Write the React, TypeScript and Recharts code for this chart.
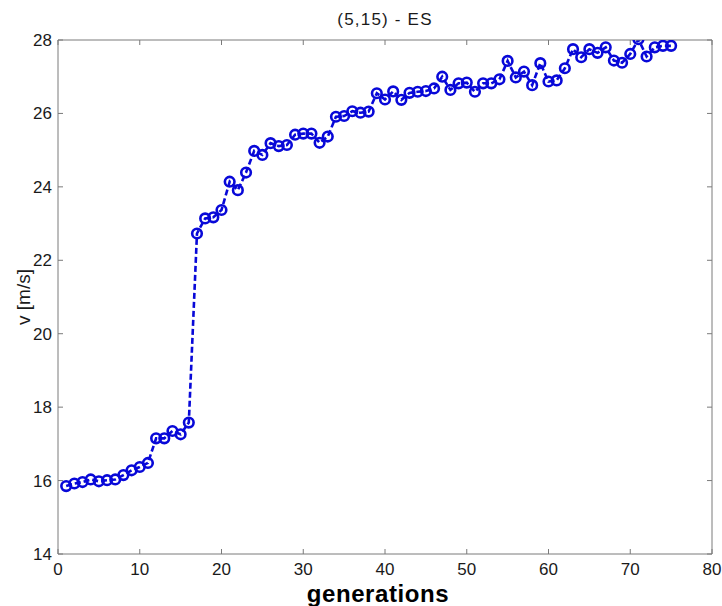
import React from 'react';
import { LineChart, Line, XAxis, YAxis, Label } from 'recharts';

const generations = [
  1, 2, 3, 4, 5, 6, 7, 8, 9, 10, 11, 12, 13, 14, 15, 16, 17, 18, 19, 20,
  21, 22, 23, 24, 25, 26, 27, 28, 29, 30, 31, 32, 33, 34, 35, 36, 37, 38, 39, 40,
  41, 42, 43, 44, 45, 46, 47, 48, 49, 50, 51, 52, 53, 54, 55, 56, 57, 58, 59, 60,
  61, 62, 63, 64, 65, 66, 67, 68, 69, 70, 71, 72, 73, 74, 75,
];

const velocity = [
  15.85, 15.92, 15.96, 16.03, 15.98, 16.01, 16.03, 16.15, 16.28, 16.37,
  16.48, 17.15, 17.15, 17.35, 17.26, 17.58, 22.73, 23.14, 23.17, 23.37,
  24.14, 23.91, 24.39, 24.98, 24.87, 25.19, 25.11, 25.14, 25.42, 25.45,
  25.45, 25.2, 25.37, 25.91, 25.93, 26.06, 26.02, 26.05, 26.55, 26.38,
  26.6, 26.37, 26.56, 26.59, 26.61, 26.68, 27.0, 26.64, 26.82, 26.84,
  26.59, 26.82, 26.82, 26.93, 27.43, 26.98, 27.14, 26.77, 27.37, 26.87,
  26.9, 27.23, 27.75, 27.53, 27.75, 27.65, 27.8, 27.44, 27.38, 27.62,
  28.02, 27.55, 27.8, 27.84, 27.84,
];

const xTicks = [0, 10, 20, 30, 40, 50, 60, 70, 80];
const yTicks = [14, 16, 18, 20, 22, 24, 26, 28];

const data = generations.map((g, i) => ({ g, v: velocity[i] }));

const FONT = '"Liberation Sans", Arial, Helvetica, sans-serif';
const AXIS = '#7a7a7a';
const BLUE = '#0808d8';

export default function App() {
  const tickStyle = { fill: '#1a1a1a', fontSize: 17, fontFamily: FONT };
  return (
    <div style={{ position: 'absolute', left: 0, top: 0, background: '#fff' }}>
      <LineChart
        width={722}
        height={606}
        data={data}
        margin={{ top: 39, right: 9, bottom: 0, left: 0 }}
        style={{ fontFamily: FONT }}
      >
        <XAxis
          dataKey="g"
          type="number"
          domain={[0, 80]}
          ticks={xTicks}
          height={52}
          tickSize={-5}
          tickMargin={14}
          stroke={AXIS}
          tick={tickStyle}
          allowDataOverflow
        >
          <Label
            value="generations"
            position="insideBottom"
            offset={4}
            style={{ fontSize: 24, fontWeight: 'bold', fill: '#000', fontFamily: FONT, letterSpacing: 0.6 }}
            dx={-7}
          />
        </XAxis>
        <XAxis
          xAxisId="top"
          dataKey="g"
          orientation="top"
          type="number"
          domain={[0, 80]}
          ticks={xTicks}
          height={1}
          tickSize={-5}
          stroke={AXIS}
          tickFormatter={() => ''}
          allowDataOverflow
        >
          <Label
            value="(5,15) - ES"
            position="top"
            offset={14}
            style={{ fontSize: 17, fill: '#1a1a1a', fontFamily: FONT, letterSpacing: 1.2 }}
          />
        </XAxis>
        <YAxis
          type="number"
          domain={[14, 28]}
          ticks={yTicks}
          width={58}
          tickSize={-5}
          tickMargin={11}
          stroke={AXIS}
          tick={tickStyle}
          allowDataOverflow
        >
          <Label
            value="v [m/s]"
            angle={-90}
            position="insideLeft"
            offset={23}
            style={{ fontSize: 19, fill: '#1a1a1a', fontFamily: FONT, textAnchor: 'middle' }}
          />
        </YAxis>
        <YAxis
          yAxisId="right"
          orientation="right"
          type="number"
          domain={[14, 28]}
          ticks={yTicks}
          width={1}
          tickSize={-5}
          stroke={AXIS}
          tickFormatter={() => ''}
          allowDataOverflow
        />
        <Line
          xAxisId="top"
          yAxisId="right"
          dataKey="v"
          stroke="none"
          dot={false}
          activeDot={false}
          isAnimationActive={false}
        />
        <Line
          dataKey="v"
          type="linear"
          stroke={BLUE}
          strokeWidth={2.6}
          strokeDasharray="6 3"
          dot={{ r: 4.8, stroke: BLUE, strokeWidth: 2.6, fill: 'none', strokeDasharray: '' }}
          isAnimationActive={false}
        />
      </LineChart>
    </div>
  );
}
